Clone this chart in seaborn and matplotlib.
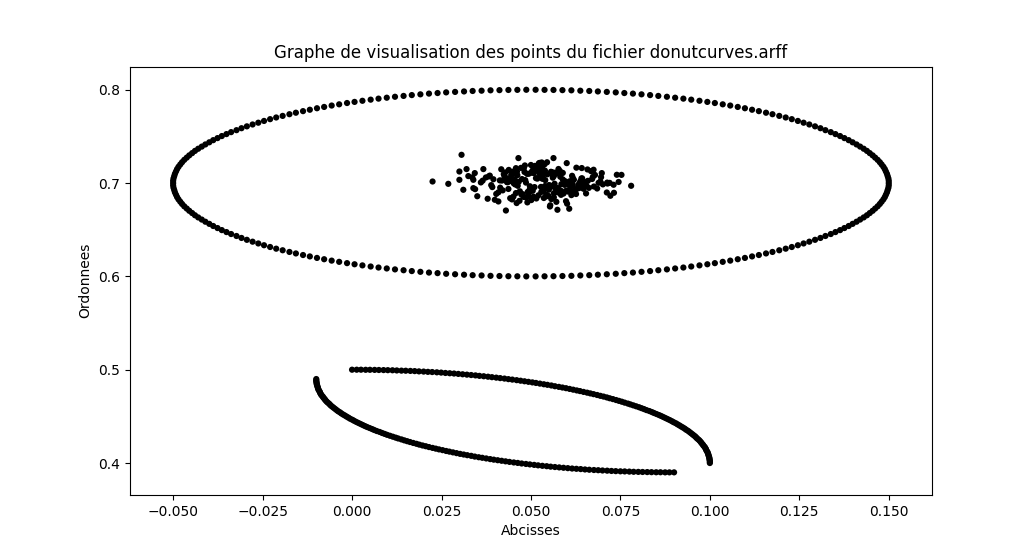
import matplotlib
matplotlib.use("Agg")
import matplotlib.pyplot as plt
import seaborn as sns
import pandas as pd

# All coordinates below are in units of 1e-4
UNIT = 10000.0

ELLIPSE_X = [1500,1500,1499,1497,1495,1492,1489,1485,1480,1475,1469,1462,1455,1447,1439,1430,1420,1410,1399,1388,1376,1364,1351,1338,1323,1309,1294,1278,1262,1246,1229,1212,1194,1175,1157,1137,1118,1098,1078,1057,1036,1014,993,971,948,926,903,880,856,833,809,785,761,737,712,687,663,638,613,588,563,538,513,
             487,462,437,412,387,362,337,313,288,263,239,215,191,167,144,120,97,74,52,29,7,-14,-36,-57,-78,-98,-118,-137,-157,-175,-194,-212,-229,-246,-262,-278,-294,-309,-323,-338,-351,-364,-376,-388,-399,-410,-420,-430,-439,-447,-455,-462,-469,-475,-480,-485,-489,-492,-495,-497,-499,-500,
             -500,
             -500,-499,-497,-495,-492,-489,-485,-480,-475,-469,-462,-455,-447,-439,-430,-420,-410,-399,-388,-376,-364,-351,-338,-323,-309,-294,-278,-262,-246,-229,-212,-194,-175,-157,-137,-118,-98,-78,-57,-36,-14,7,29,52,74,97,120,144,167,191,215,239,263,288,313,337,362,387,412,437,462,487,
             513,538,563,588,613,638,663,687,712,737,761,785,809,833,856,880,903,926,948,971,993,1014,1036,1057,1078,1098,1118,1137,1157,1175,1194,1212,1229,1246,1262,1278,1294,1309,1323,1338,1351,1364,1376,1388,1399,1410,1420,1430,1439,1447,1455,1462,1469,1475,1480,1485,1489,1492,1495,1497,1499,1500]
ELLIPSE_Y = [7000,7025,7050,7075,7100,7125,7150,7175,7200,7224,7249,7273,7297,7321,7345,7368,7391,7414,7437,7460,7482,7504,7525,7546,7567,7588,7608,7628,7647,7666,7685,7703,7720,7738,7754,7771,7786,7802,7816,7831,7844,7858,7870,7882,7894,7905,7915,7925,7934,7943,7951,7959,7965,7972,7977,7982,7987,7990,7994,7996,7998,7999,8000,
             8000,7999,7998,7996,7994,7990,7987,7982,7977,7972,7965,7959,7951,7943,7934,7925,7915,7905,7894,7882,7870,7858,7844,7831,7816,7802,7786,7771,7754,7738,7720,7703,7685,7666,7647,7628,7608,7588,7567,7546,7525,7504,7482,7460,7437,7414,7391,7368,7345,7321,7297,7273,7249,7224,7200,7175,7150,7125,7100,7075,7050,7025,
             7000,
             6975,6950,6925,6900,6875,6850,6825,6800,6776,6751,6727,6703,6679,6655,6632,6609,6586,6563,6540,6518,6496,6475,6454,6433,6412,6392,6372,6353,6334,6315,6297,6280,6262,6246,6229,6214,6198,6184,6169,6156,6142,6130,6118,6106,6095,6085,6075,6066,6057,6049,6041,6035,6028,6023,6018,6013,6010,6006,6004,6002,6001,6000,
             6000,6001,6002,6004,6006,6010,6013,6018,6023,6028,6035,6041,6049,6057,6066,6075,6085,6095,6106,6118,6130,6142,6156,6169,6184,6198,6214,6229,6246,6262,6280,6297,6315,6334,6353,6372,6392,6412,6433,6454,6475,6496,6518,6540,6563,6586,6609,6632,6655,6679,6703,6727,6751,6776,6800,6825,6850,6875,6900,6925,6950,6975]

CLUSTER_X = [430,550,638,493,589,389,514,622,455,560,679,501,466,577,344,532,654,449,566,507,
             615,414,538,732,486,571,524,365,602,480,549,696,442,517,633,543,424,595,498,668,
             463,582,350,536,647,475,557,720,511,409,617,528,454,564,658,496,540,601,385,585,
             504,626,435,553,753,521,472,575,641,421,545,608,487,526,689,458,568,510,620,399,
             535,445,594,659,490,556,374,609,522,714,477,563,634,438,542,596,505,673,468,573,
             413,529,627,497,584,325,547,650,461,515,701,483,580,395,612,519,452,554,643,494,
             591,428,539,671,479,561,631,360,525,603,444,552,722,508,616,419,574,531,655,473,
             546,456,623,512,745,437,564,379,589,500,676,469,559,636,403,533,598,489,662,440,
             570,508,336,613,462,550,694,491,581,392,524,647,451,561,624,482,536,713,426,599,
             518,645,417,577,484,685,533,447,608,501,564,382,617,549,458,638,514,585,433,539,
             306,225,269,300,320,343,367,300,311,339,339,430,465,563,553,574,607,780,740,731,
             712,698,675,642,600,530,409,460]
CLUSTER_Y = [7054,6929,7019,6866,7109,6978,7175,6906,7034,6964,7087,6818,7014,7151,6935,7046,6889,7122,6993,6854,
             7078,6951,7201,6896,7005,6799,7104,7026,6915,7158,6946,7063,6838,7136,6983,6876,7095,7020,6912,7128,
             6971,7068,6859,7117,6939,7043,6828,7002,7184,6901,7056,6959,7099,6847,7146,6927,7032,6779,7080,6988,
             7133,6883,7010,6974,7088,6869,7163,6947,7049,6922,7223,6976,6844,7073,7003,6893,7112,6957,7036,6821,
             6913,7092,6981,7024,6793,7121,7060,6934,7211,6995,6881,7083,6954,7141,6857,7015,6918,7066,6810,7105,
             7029,6905,7165,6966,6874,7075,6944,7009,7124,6835,6986,7189,6925,7041,6898,7145,6997,6762,7051,7100,
             6888,7114,6968,7044,6852,7082,6942,7007,7155,6910,7065,6952,6864,7107,6991,7027,6903,7172,6973,6879,
             7094,6985,6895,7138,7012,6937,7075,6832,7039,7194,6963,6912,7117,7000,6884,7070,6806,7099,6949,7020,
             6930,7168,7061,6871,7085,6978,7017,6905,7129,6957,7216,6998,6855,7058,6934,7119,6840,7005,7077,6920,
             7048,6961,7148,6900,7032,6942,7097,6825,7019,7111,6891,7071,6973,6862,7160,6951,7053,6915,7010,7134,
             7303,7017,6992,7124,7150,7107,7150,7035,6928,7035,6946,6706,7268,7268,6749,6714,6725,6971,7089,6982,
             6899,7107,7143,7161,7214,7221,6803,6786]

UPPER_X = [0,13,25,38,50,63,75,88,100,113,125,138,150,163,175,187,200,212,224,237,249,261,273,285,297,309,321,333,345,356,368,380,391,403,414,426,437,448,460,471,482,493,504,514,525,536,546,557,567,578,588,598,608,618,628,637,647,657,666,675,685,694,703,712,720,729,738,746,754,762,771,778,786,794,802,809,816,823,831,838,844,851,858,864,870,876,882,888,894,899,905,910,915,920,925,930,934,939,943,947,951,955,959,962,965,969,972,975,977,980,982,985,987,989,990,992,994,995,996,997,998,999,999,1000,1000,1000]
UPPER_Y = [5000,5000,5000,4999,4999,4998,4997,4996,4995,4994,4992,4990,4989,4987,4985,4982,4980,4977,4975,4972,4969,4965,4962,4959,4955,4951,4947,4943,4939,4934,4930,4925,4920,4915,4910,4905,4899,4894,4888,4882,4876,4870,4864,4858,4851,4844,4838,4831,4823,4816,4809,4802,4794,4786,4778,4771,4762,4754,4746,4738,4729,4720,4712,4703,4694,4685,4675,4666,4657,4647,4637,4628,4618,4608,4598,4588,4578,4567,4557,4546,4536,4525,4514,4504,4493,4482,4471,4460,4448,4437,4426,4414,4403,4391,4380,4368,4356,4345,4333,4321,4309,4297,4285,4273,4261,4249,4237,4224,4212,4200,4187,4175,4163,4150,4138,4125,4113,4100,4088,4075,4063,4050,4038,4025,4013,4000]

LOWER_X = [-100,-100,-100,-99,-99,-98,-97,-96,-95,-94,-92,-90,-89,-87,-85,-82,-80,-77,-75,-72,-69,-65,-62,-59,-55,-51,-47,-43,-39,-34,-30,-25,-20,-15,-10,-5,1,6,12,18,24,30,36,42,49,56,62,69,77,84,91,98,106,114,122,129,138,146,154,162,171,180,188,197,206,215,225,234,243,253,263,272,282,292,302,312,322,333,343,354,364,375,386,396,407,418,429,440,452,463,474,486,497,509,520,532,544,555,567,579,591,603,615,627,639,651,663,676,688,700,713,725,737,750,762,775,787,800,812,825,837,850,862,875,887,900]
LOWER_Y = [4900,4887,4875,4862,4850,4837,4825,4812,4800,4787,4775,4762,4750,4737,4725,4713,4700,4688,4676,4663,4651,4639,4627,4615,4603,4591,4579,4567,4555,4544,4532,4520,4509,4497,4486,4474,4463,4452,4440,4429,4418,4407,4396,4386,4375,4364,4354,4343,4333,4322,4312,4302,4292,4282,4272,4263,4253,4243,4234,4225,4215,4206,4197,4188,4180,4171,4162,4154,4146,4138,4129,4122,4114,4106,4098,4091,4084,4077,4069,4062,4056,4049,4042,4036,4030,4024,4018,4012,4006,4001,3995,3990,3985,3980,3975,3970,3966,3961,3957,3953,3949,3945,3941,3938,3935,3931,3928,3925,3923,3920,3918,3915,3913,3911,3910,3908,3906,3905,3904,3903,3902,3901,3901,3900,3900,3900]

GROUPS = [("ellipse", ELLIPSE_X, ELLIPSE_Y), ("cluster", CLUSTER_X, CLUSTER_Y),
          ("upper", UPPER_X, UPPER_Y), ("lower", LOWER_X, LOWER_Y)]

frames = []
for name, xs, ys in GROUPS:
    frames.append(pd.DataFrame({"x": [v / UNIT for v in xs],
                                "y": [v / UNIT for v in ys],
                                "group": name}))
df = pd.concat(frames, ignore_index=True)

fig, ax = plt.subplots(figsize=(10.36, 5.56), dpi=100)
sns.scatterplot(data=df, x="x", y="y", hue="group", palette=["black"] * 4,
                s=20, linewidth=0, legend=False, ax=ax)
ax.set_title("Graphe de visualisation des points du fichier donutcurves.arff")
ax.set_xlabel("Abcisses")
ax.set_ylabel("Ordonnees")
ax.set_xlim(-0.0622, 0.1622)
ax.set_ylim(0.3659, 0.8247)
fig.savefig("out.png", dpi=100)
